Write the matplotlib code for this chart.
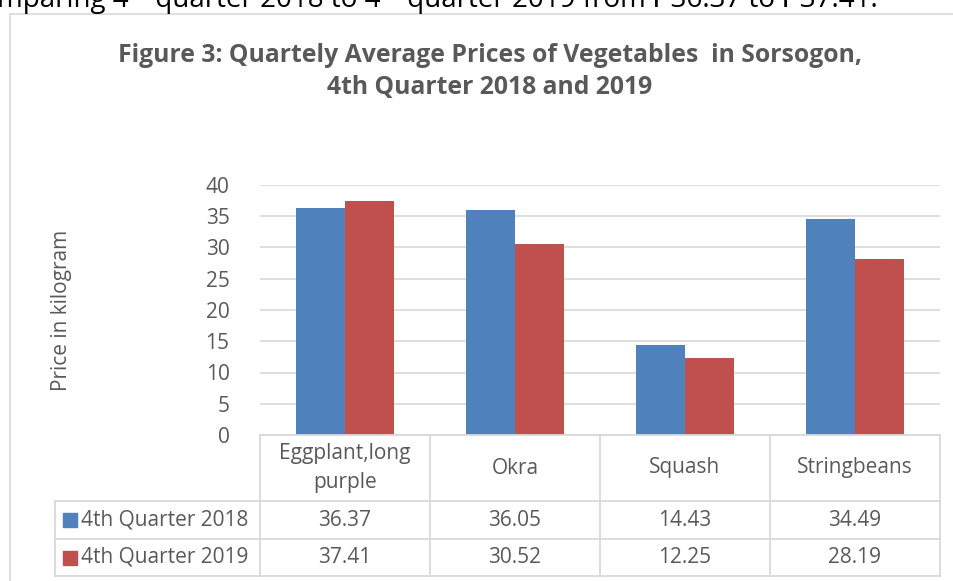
import matplotlib
matplotlib.use("Agg")
import matplotlib.pyplot as plt
from matplotlib.patches import Rectangle
from matplotlib.lines import Line2D
import numpy as np

categories = ["Eggplant,long\npurple", "Okra", "Squash", "Stringbeans"]
series_names = ["4th Quarter 2018", "4th Quarter 2019"]
q4_2018 = [36.37, 36.05, 14.43, 34.49]
q4_2019 = [37.41, 30.52, 12.25, 28.19]
yticks = [0, 5, 10, 15, 20, 25, 30, 35, 40]
colors = ["#4F81BD", "#C0504D"]

W, H = 954, 581
FONT = ["Open Sans", "DejaVu Sans"]
TXT = "#595959"
GRID = "#D9D9D9"
FS = 15

fig = plt.figure(figsize=(W / 100, H / 100), dpi=100)
fig.patch.set_facecolor("white")

def fx(x):
    return x / W

def fy(y):
    return 1 - y / H

# clipped document text at top
fig.text(fx(878), fy(7), "Comparing 4ᵗʰ quarter 2018 to 4ᵗʰ quarter 2019 from ₱36.37 to ₱37.41.",
         fontsize=20, family=FONT, color="black", ha="right", va="baseline")

# chart border
fig.add_artist(Line2D([fx(10), fx(10)], [fy(14), fy(600)], color=GRID, lw=1.2, transform=fig.transFigure))
fig.add_artist(Line2D([fx(10), fx(960)], [fy(14), fy(14)], color=GRID, lw=1.2, transform=fig.transFigure))

# title
fig.text(fx(490), fy(62.5), "Figure 3: Quartely Average Prices of Vegetables  in Sorsogon,",
         fontsize=17.8, family=FONT, weight="bold", color=TXT, ha="center", va="baseline")
fig.text(fx(490), fy(94), "4th Quarter 2018 and 2019",
         fontsize=17.8, family=FONT, weight="bold", color=TXT, ha="center", va="baseline")

L, R, T, B = 260, 940, 185, 435
ax = fig.add_axes([fx(L), fy(B), fx(R) - fx(L), fy(T) - fy(B)])
x = np.arange(len(categories))
bw = 0.287
ax.bar(x - bw / 2, q4_2018, width=bw, color=colors[0], zorder=3)
ax.bar(x + bw / 2, q4_2019, width=bw, color=colors[1], zorder=3)
ax.set_xlim(-0.5, len(categories) - 0.5)
ax.set_ylim(0, 40)
ax.set_yticks(yticks)
ax.set_yticklabels([str(v) for v in yticks], family=FONT, fontsize=FS, color=TXT)
ax.tick_params(axis="y", length=0, pad=22)
ax.set_xticks([])
ax.grid(axis="y", color=GRID, lw=1.2, zorder=0)
for s in ax.spines.values():
    s.set_visible(False)

# y-axis label
fig.text(fx(61), fy(310), "Price in kilogram", family=FONT, fontsize=FS, color=TXT,
         rotation=90, ha="center", va="center")

# data table
col_edges = [L + (R - L) * i / len(categories) for i in range(len(categories) + 1)]
row_y = [435, 501, 539, 576]
leg_left = 55

def hline(x0, x1, y):
    fig.add_artist(Line2D([fx(x0), fx(x1)], [fy(y), fy(y)], color=GRID, lw=1.3, transform=fig.transFigure))

def vline(x, y0, y1):
    fig.add_artist(Line2D([fx(x), fx(x)], [fy(y0), fy(y1)], color=GRID, lw=1.3, transform=fig.transFigure))

hline(L, R, row_y[0])
for y in row_y[1:]:
    hline(leg_left, R, y)
for xe in col_edges:
    vline(xe, row_y[0], row_y[3])
vline(leg_left, row_y[1], row_y[3])

for i, cat in enumerate(categories):
    cx = (col_edges[i] + col_edges[i + 1]) / 2
    fig.text(fx(cx), fy((row_y[0] + row_y[1]) / 2), cat, family=FONT, fontsize=FS, color=TXT,
             ha="center", va="center", linespacing=1.45)

for r, (name, vals, c) in enumerate(zip(series_names, [q4_2018, q4_2019], colors)):
    cy = (row_y[r + 1] + row_y[r + 2]) / 2
    fig.add_artist(Rectangle((fx(63), fy(cy + 7)), fx(14), fy(cy - 7) - fy(cy + 7),
                             color=c, transform=fig.transFigure))
    fig.text(fx(81), fy(cy), name, family=FONT, fontsize=FS, color=TXT, ha="left", va="center")
    for i, v in enumerate(vals):
        cx = (col_edges[i] + col_edges[i + 1]) / 2
        fig.text(fx(cx), fy(cy), f"{v:.2f}", family=FONT, fontsize=FS, color=TXT,
                 ha="center", va="center")

fig.savefig("out.png", dpi=100)
